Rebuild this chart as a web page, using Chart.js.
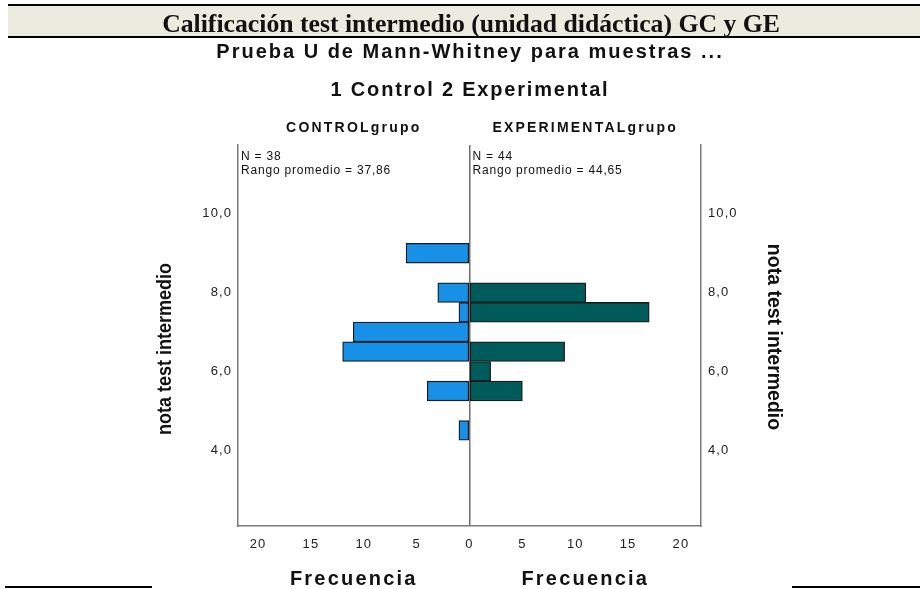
<!DOCTYPE html>
<html>
<head>
<meta charset="utf-8">
<script src="https://cdn.jsdelivr.net/npm/chart.js@4.4.0/dist/chart.umd.min.js"></script>
<style>
  html, body { margin: 0; padding: 0; background: #fff; }
  #wrap { position: relative; width: 920px; height: 589px; overflow: hidden; }
  #chart { position: absolute; left: 0; top: 0; }
  #band { position: absolute; left: 8px; right: 0; top: 4px; height: 30px; background: #ecebe0;
          border-top: 2px solid #000; border-bottom: 2px solid #000; }
  #head { position: absolute; left: 471px; top: 9px; white-space: nowrap; line-height: 26px;
          font: bold 26px "Liberation Serif", "Times New Roman", serif; color: #111;
          transform-origin: 0 0; }
  .rule { position: absolute; top: 586px; height: 2px; background: #000; }
</style>
</head>
<body>
<div id="wrap">
  <canvas id="chart" width="920" height="589"></canvas>
  <div id="band"></div>
  <div id="head">Calificación test intermedio (unidad didáctica) GC y GE</div>
  <div class="rule" style="left:5px;width:147px"></div>
  <div class="rule" style="left:792px;width:128px"></div>
</div>
<script>
// histogram bins (centre of each 0.5-wide bin) and frequencies
const bins = [9.0, 8.0, 7.5, 7.0, 6.5, 6.0, 5.5, 4.5]
const controlCounts = [6, 3, 1, 11, 12, 0, 4, 1]
const experimentalCounts = [0, 11, 17, 0, 9, 2, 5, 0]

const yTicks = [4, 6, 8, 10]
const xTicks = [-20, -15, -10, -5, 0, 5, 10, 15, 20]

const title = 'Prueba U de Mann-Whitney para muestras ...'
const subtitle = '1 Control 2 Experimental'
const groupNames = ['CONTROLgrupo', 'EXPERIMENTALgrupo']
const groupN = [38, 44]
const groupRanks = ['37,86', '44,65']
const axisTitle = 'nota test intermedio'
const freqTitle = 'Frecuencia'

const head = document.querySelector('#head')
const k = 618 / head.offsetWidth
head.style.transform = `scaleX(${k}) translateX(-50%)`

function points(counts, sign) {
  return bins.map((b, i) => ({ y: b, x: sign * counts[i] })).filter(p => p.x !== 0)
}

const fmtY = v => v.toFixed(1).replace('.', ',')
const sans = '"Liberation Sans", Arial, sans-serif'

function text(ctx, str, x, y, font, spacing, align) {
  ctx.save()
  ctx.font = font
  ctx.letterSpacing = spacing + 'px'
  ctx.textAlign = align || 'center'
  ctx.textBaseline = 'middle'
  ctx.fillStyle = '#111'
  ctx.fillText(str, x, y)
  ctx.restore()
}

// rotated text, squeezed along its length by sx
function vtext(ctx, str, x, y, font, angle, sx) {
  ctx.save()
  ctx.translate(x, y)
  ctx.rotate(angle)
  ctx.scale(sx, 1)
  text(ctx, str, 0, 0, font, 0)
  ctx.restore()
}

const labels = {
  id: 'labels',
  beforeDraw(chart) {
    chart.ctx.letterSpacing = '1.1px'
  },
  afterDraw(chart) {
    const { ctx, chartArea, scales } = chart
    ctx.letterSpacing = '0px'
    const mid = scales.x.getPixelForValue(0)
    const halves = [(chartArea.left + mid) / 2, (mid + chartArea.right) / 2]
    const lefts = [chartArea.left + 3, mid + 3]

    text(ctx, title, 470, 52, 'bold 20px ' + sans, 2.0)
    text(ctx, subtitle, 470, 90, 'bold 20px ' + sans, 1.8)

    for (let i = 0; i < 2; i++) {
      text(ctx, groupNames[i], halves[i], 128, 'bold 14px ' + sans, 2.2)
      text(ctx, 'N = ' + groupN[i], lefts[i], 157, '12px ' + sans, 0.8, 'left')
      text(ctx, 'Rango promedio = ' + groupRanks[i], lefts[i], 171, '12px ' + sans, 0.8, 'left')
      text(ctx, freqTitle, halves[i], 579, 'bold 20px ' + sans, 2.2)
    }

    vtext(ctx, axisTitle, 165, 349, 'bold 20px ' + sans, -Math.PI / 2, 0.9)
    vtext(ctx, axisTitle, 773, 337, 'bold 19.5px ' + sans, Math.PI / 2, 1)
  }
}

const yScale = (position, width) => ({
  type: 'linear',
  position: position,
  display: true,
  min: 2.07,
  max: 11.75,
  offset: false,
  afterBuildTicks: s => { s.ticks = yTicks.map(v => ({ value: v })) },
  afterFit: s => { s.width = width },
  grid: { display: true, offset: false, drawTicks: false, color: 'rgba(0,0,0,0)' },
  border: { display: true, color: '#7a7a7a', width: 1.5 },
  ticks: {
    padding: position === 'left' ? 6 : 7,
    color: '#222',
    font: { family: sans, size: 13 },
    callback: v => fmtY(v)
  }
})

const chart = new Chart(document.querySelector('#chart'), {
  type: 'bar',
  data: {
    datasets: [
      {
        label: groupNames[0],
        data: points(controlCounts, -1),
        backgroundColor: '#1790e8',
        yAxisID: 'y'
      },
      {
        label: groupNames[1],
        data: points(experimentalCounts, 1),
        backgroundColor: '#005b5b',
        yAxisID: 'y'
      }
    ]
  },
  options: {
    indexAxis: 'y',
    responsive: false,
    animation: false,
    events: [],
    layout: { padding: { top: 145, left: 0, right: 0, bottom: 0 } },
    datasets: {
      bar: {
        grouped: false,
        barPercentage: 1,
        categoryPercentage: 1,
        borderWidth: 1.3,
        borderColor: '#1a1a1a',
        borderSkipped: false
      }
    },
    plugins: {
      legend: { display: false },
      title: { display: false },
      tooltip: { enabled: false }
    },
    scales: {
      x: {
        type: 'linear',
        position: 'bottom',
        min: -21.9,
        max: 21.9,
        afterBuildTicks: s => { s.ticks = xTicks.map(v => ({ value: v })) },
        afterFit: s => { s.height = 63 },
        grid: {
          drawTicks: false,
          lineWidth: 1.5,
          color: c => (c.tick && c.tick.value === 0 ? '#6e6e6e' : 'rgba(0,0,0,0)')
        },
        border: { display: true, color: '#7a7a7a', width: 1.5 },
        ticks: {
          padding: 11,
          color: '#222',
          maxRotation: 0,
          font: { family: sans, size: 13 },
          callback: v => String(Math.abs(v))
        }
      },
      y: yScale('left', 238),
      y2: yScale('right', 219)
    }
  },
  plugins: [labels]
})
</script>
</body>
</html>
